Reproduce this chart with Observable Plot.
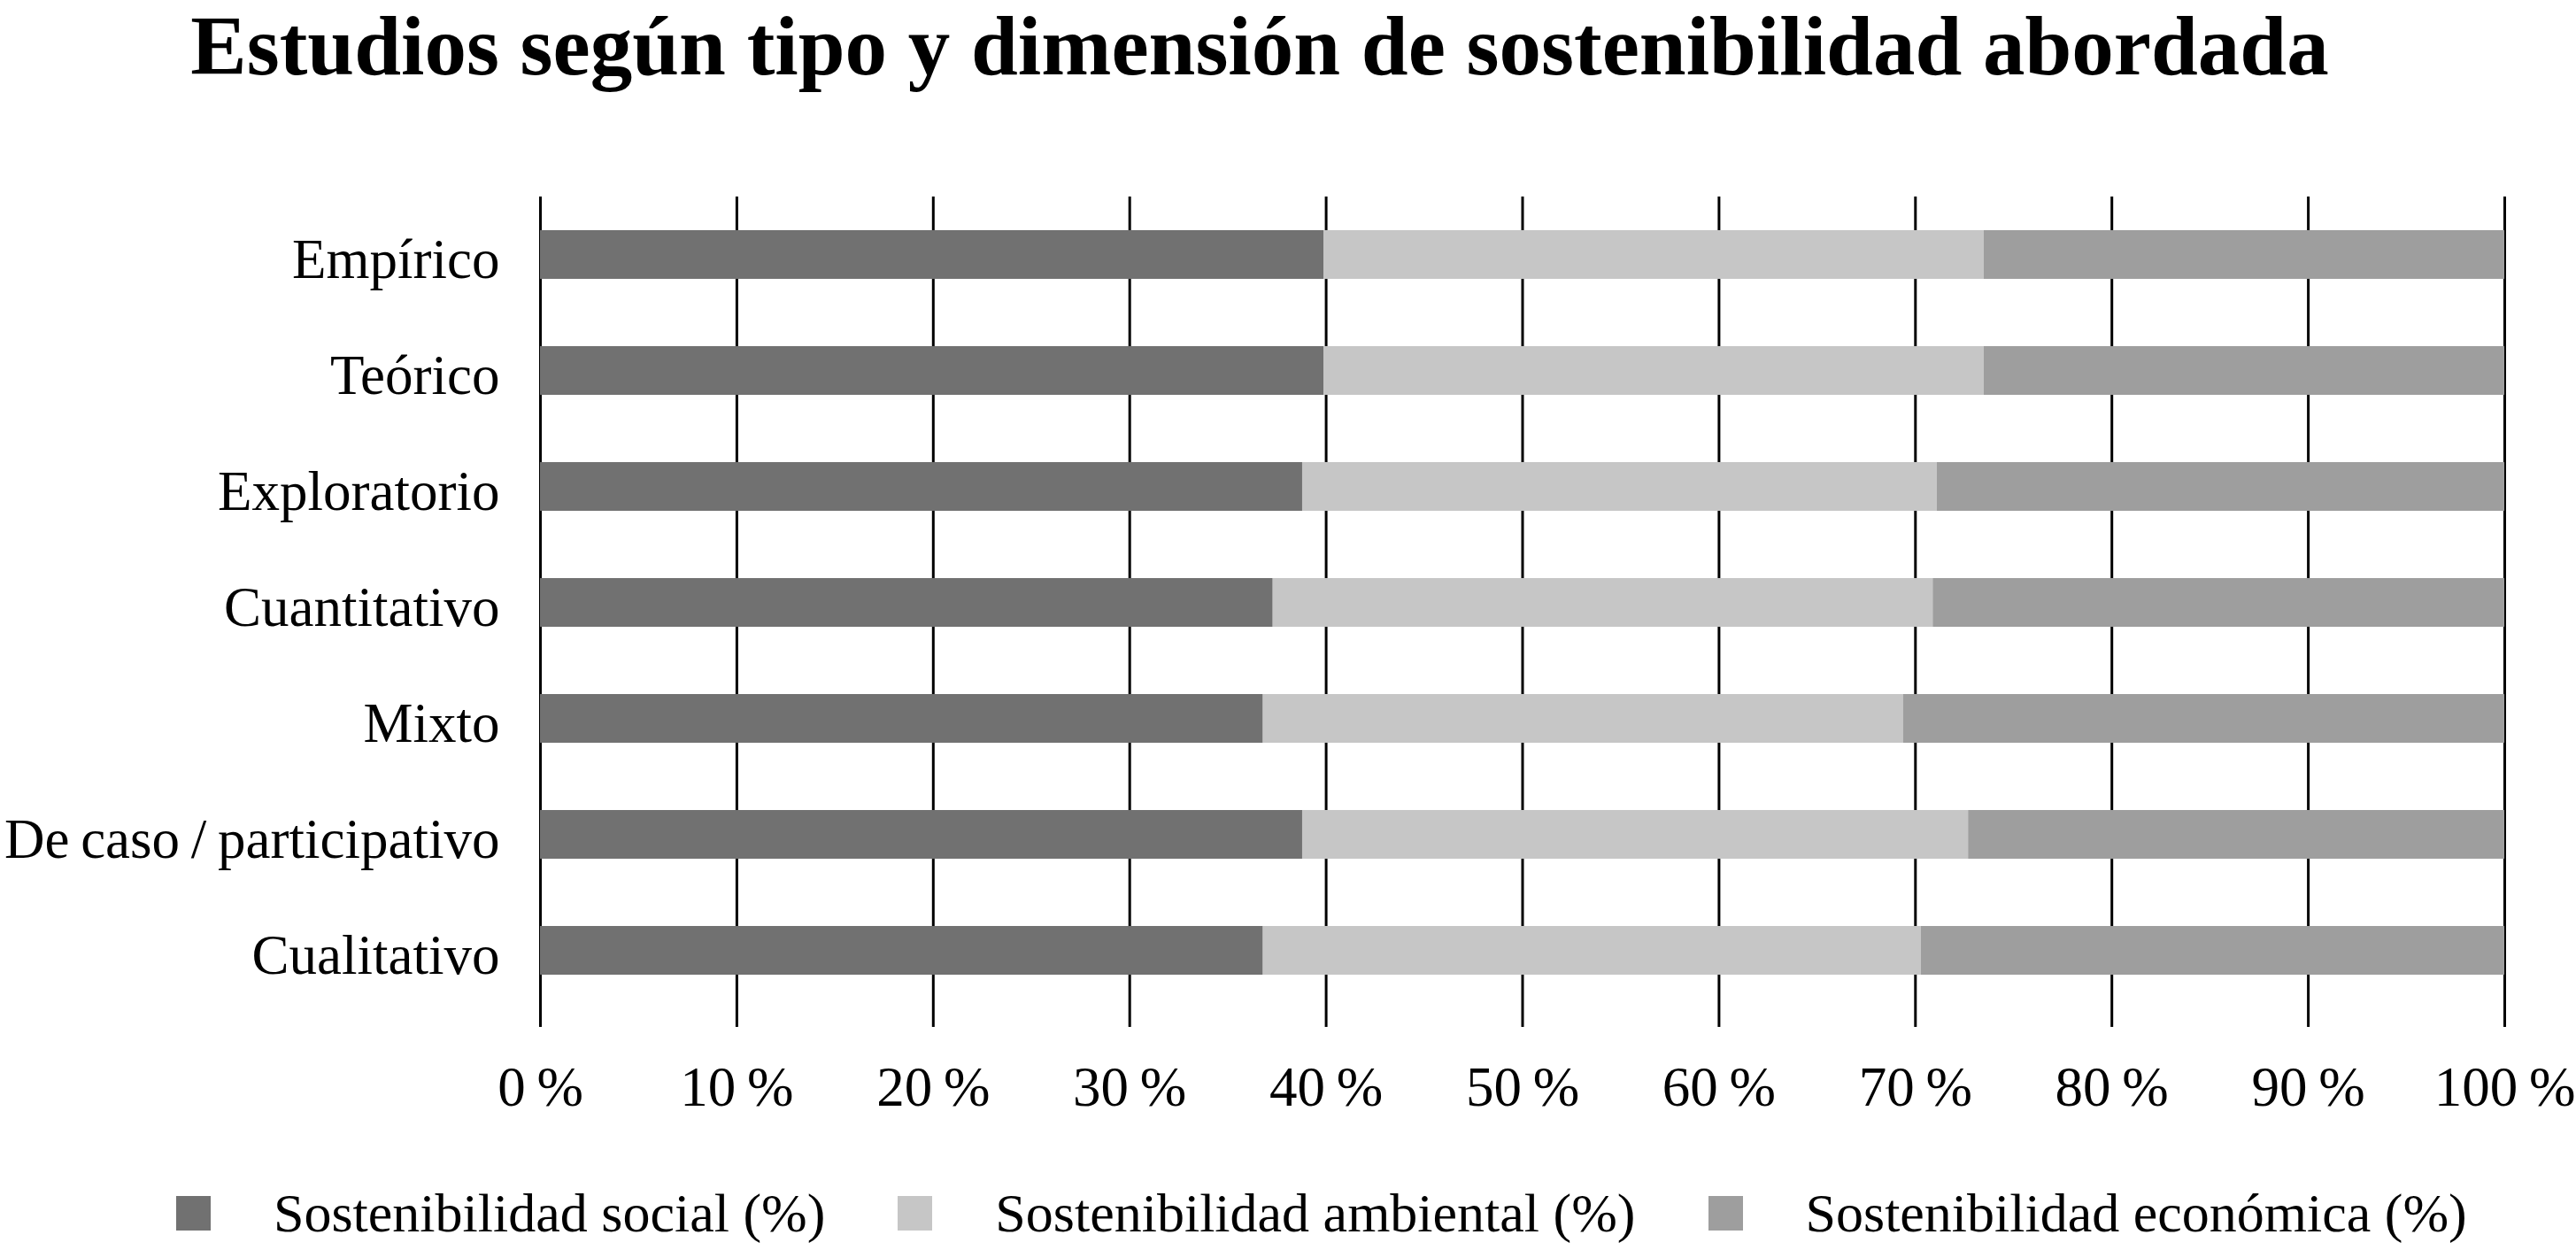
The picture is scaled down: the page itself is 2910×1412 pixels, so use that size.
<!DOCTYPE html>
<html>
<head>
<meta charset="utf-8">
<script src="https://cdn.jsdelivr.net/npm/d3@7"></script>
<script src="https://cdn.jsdelivr.net/npm/@observablehq/plot@0.6"></script>
<style>
  html, body { margin: 0; padding: 0; background: #fff; }
  body { position: relative; width: 2910px; height: 1412px; overflow: hidden;
         font-family: "Liberation Serif", "Times New Roman", serif; color: #000; }
  #title { position: absolute; left: 0; top: 0; width: 2846px; height: 105px; line-height: 105px;
           font-size: 95px; font-weight: bold; text-align: center; white-space: nowrap; }
  #chart { position: absolute; left: 0; top: 106px; }
  #chart svg { display: block; word-spacing: -3px; }
  #legend { position: absolute; left: 199px; top: 1334px; height: 72px; line-height: 72px;
            display: flex; align-items: center; font-size: 62px; white-space: nowrap; }
  .item { display: flex; align-items: center; margin-right: 82px; }
  .sw { width: 39px; height: 39px; margin-right: 71px; flex: none; }
</style>
</head>
<body>
<div id="title">Estudios según tipo y dimensión de sostenibilidad abordada</div>
<div id="chart"></div>
<div id="legend"></div>
<script>
const categories = ["Empírico", "Teórico", "Exploratorio", "Cuantitativo", "Mixto", "De caso / participativo", "Cualitativo"];
const seriesNames = ["Sostenibilidad social (%)", "Sostenibilidad ambiental (%)", "Sostenibilidad económica (%)"];
const social    = [39.9, 39.9, 38.8, 37.3, 36.8, 38.8, 36.8];
const ambiental = [33.6, 33.6, 32.3, 33.6, 32.6, 33.9, 33.5];
const economica = [26.5, 26.5, 28.9, 29.1, 30.6, 27.3, 29.7];
const xTicks = [0, 10, 20, 30, 40, 50, 60, 70, 80, 90, 100];
const xTickLabels = ["0 %", "10 %", "20 %", "30 %", "40 %", "50 %", "60 %", "70 %", "80 %", "90 %", "100 %"];
const seriesColors = ["#717171", "#c6c6c6", "#9e9e9e"];

const seriesValues = [social, ambiental, economica];
const data = [];
categories.forEach((c, i) => {
  seriesNames.forEach((s, j) => data.push({type: c, series: s, value: seriesValues[j][i]}));
});

const chart = Plot.plot({
  width: 2910,
  height: 1184,
  marginTop: 116,
  marginBottom: 130,
  marginLeft: 610,
  marginRight: 81,
  style: {fontFamily: "'Liberation Serif', 'Times New Roman', serif", fontSize: "63px", background: "#fff", color: "#000"},
  x: {domain: [0, 100], ticks: xTicks, tickFormat: d => xTickLabels[xTicks.indexOf(d)], label: null},
  y: {domain: categories, paddingInner: 0.582, paddingOuter: 0.357, align: 0.394, label: null},
  color: {domain: seriesNames, range: seriesColors},
  marks: [
    Plot.ruleX(xTicks, {x: d => d, stroke: "#000", strokeWidth: 3}),
    Plot.barX(data, {y: "type", x: "value", fill: "series"}),
    Plot.axisX({ticks: xTicks, tickFormat: d => xTickLabels[xTicks.indexOf(d)], tickSize: 0, tickPadding: 44, label: null, fill: "#000"}),
    Plot.axisY({tickSize: 0, tickPadding: 46, dy: 6, label: null, fill: "#000"})
  ]
});
document.getElementById("chart").appendChild(chart);

const color = chart.scale("color");
const legend = document.getElementById("legend");
color.domain.forEach((name, i) => {
  const item = document.createElement("div");
  item.className = "item";
  const sw = document.createElement("span");
  sw.className = "sw";
  sw.style.background = color.range[i];
  const t = document.createElement("span");
  t.textContent = name;
  item.appendChild(sw);
  item.appendChild(t);
  legend.appendChild(item);
});
</script>
</body>
</html>
